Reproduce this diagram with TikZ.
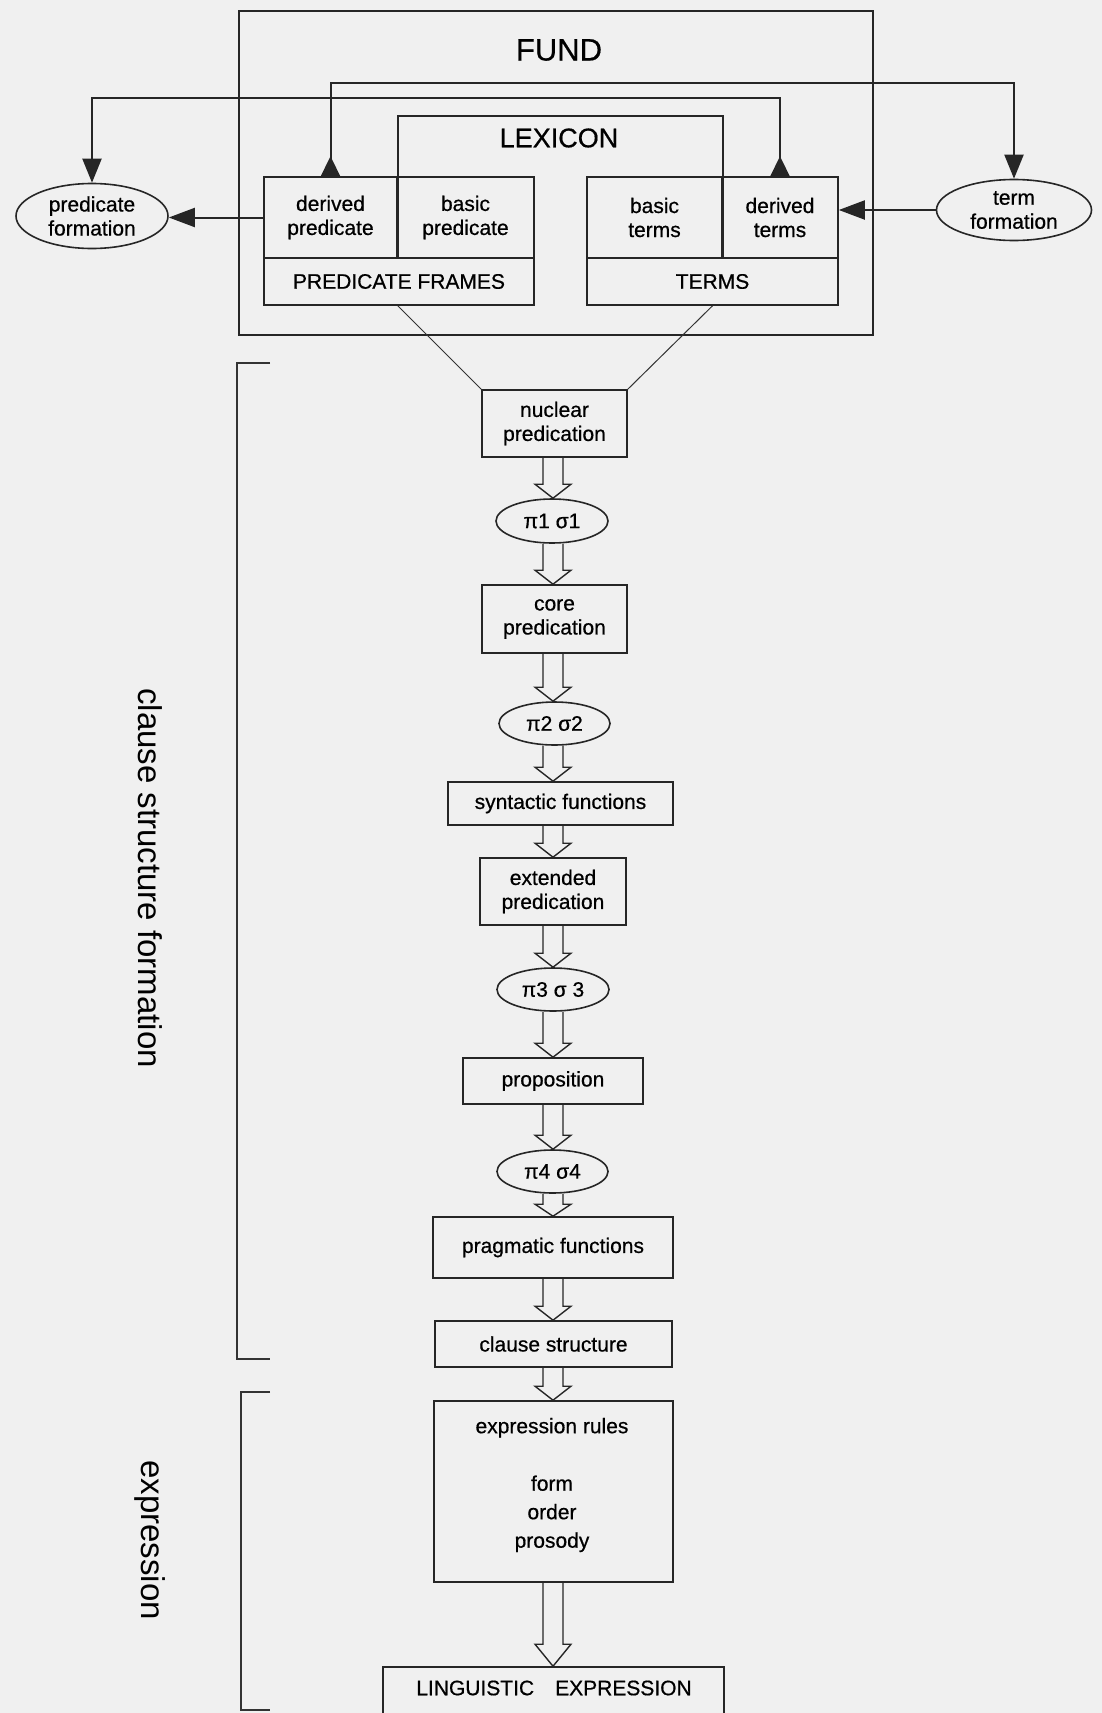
\documentclass[tikz,border=0pt]{standalone}
\usepackage{fontspec}
\setmainfont{Liberation Sans}
\newfontfamily\heavyfont{Liberation Sans}[FakeBold=0.6]
\usetikzlibrary{arrows.meta,shapes.geometric,calc}
\tikzset{
  ink/.style={draw=black!85, line width=1.6pt},
  boxtext/.style={font=\heavyfont\fontsize{21}{24}\selectfont, align=center},
  cell/.style={ink, rectangle, inner sep=0pt, boxtext},
  oval/.style={ink, ellipse, inner sep=0pt, boxtext},
  plain/.style={inner sep=0pt, boxtext},
  hollow/.style={draw=black!85, line width=1.4pt, line join=miter},
  conn/.style={draw=black!85, line width=2pt},
  thinline/.style={draw=black!80, line width=1pt},
  brk/.style={draw=black!80, line width=1.5pt},
}
\newcommand\holarrow[3][14pt]{%
  \draw[hollow] let \p1=(#2.south), \p2=(#3.north), \p3=(axis) in
    (\x3-10pt,\y1) -- (\x3-10pt,\y2+#1) -- (\x3-18pt,\y2+#1) -- (\x3,\y2)
    -- (\x3+18pt,\y2+#1) -- (\x3+10pt,\y2+#1) -- (\x3+10pt,\y1);}
\begin{document}
\begin{tikzpicture}[x=1pt,y=-1pt]
\clip (0,0) rectangle (1102,1713);
\fill[black!6] (0,0) rectangle (1102,1713);
\coordinate (axis) at (553,0);
\coordinate (topA) at (0,83);
\coordinate (topB) at (0,98);
\coordinate (lexnw) at (397,116);

% FUND
\node[ink, rectangle, minimum width=634pt, minimum height=324pt, inner sep=0pt] (fund) at (556,173) {};
\node[inner sep=0pt, font=\heavyfont\fontsize{31}{34}\selectfont] (fundlabel) at (559,50) {FUND};

% cells
\node[cell, minimum width=133pt, minimum height=81pt] (dp) at (330.5,217.5) {derived\\predicate};
\node[cell, minimum width=137pt, minimum height=81pt] (bp) at (465.5,217.5) {basic\\predicate};
\node[cell, minimum width=270pt, minimum height=47pt] (pfr) at (399,281.5) {PREDICATE FRAMES};
\node[cell, minimum width=135pt, minimum height=81pt] (bt) at (654.5,217.5) {basic\\terms};
\node[cell, minimum width=116pt, minimum height=81pt] (dtm) at (780,217.5) {derived\\terms};
\node[cell, minimum width=251pt, minimum height=47pt] (trm) at (712.5,281.5) {TERMS};

% LEXICON
\draw[ink] (dp.south east) -- (dp.south east |- lexnw) -| (bt.south east);
\node[inner sep=0pt, font=\heavyfont\fontsize{27}{30}\selectfont] (lexlabel) at (559,138) {LEXICON};

% formation ellipses
\node[oval, minimum width=152pt, minimum height=65pt] (pf) at (92,216) {predicate\\formation};
\node[oval, minimum width=155pt, minimum height=61pt] (tf) at (1014,210) {term\\formation};

% connectors of the fund
\draw[conn, {Triangle[reversed,length=20pt,width=19pt]}-{Triangle[length=24pt,width=19pt]}]
  (dp.north) |- (tf.north |- topA) -- (tf.north);
\draw[conn, {Triangle[reversed,length=20pt,width=19pt]}-{Triangle[length=24pt,width=19pt]}]
  (dtm.north) |- (pf.north |- topB) -- (pf.north);
\draw[conn, -{Triangle[length=26pt,width=19pt]}] (dp.west) -- (dp.west -| pf.east);
\draw[conn, -{Triangle[length=26pt,width=19pt]}] (tf.west) -- (tf.west -| dtm.east);

% chain
\node[cell, minimum width=145pt, minimum height=67pt] (nuc) at (554.5,423.5) {nuclear\\predication};
\node[oval, minimum width=112pt, minimum height=44pt] (e1) at (552,521) {π1 σ1};
\node[cell, minimum width=145pt, minimum height=68pt] (core) at (554.5,619) {core\\predication};
\node[oval, minimum width=111pt, minimum height=43pt] (e2) at (554.5,723.5) {π2 σ2};
\node[cell, minimum width=225pt, minimum height=43pt] (syn) at (560.5,803.5) {syntactic functions};
\node[cell, minimum width=146pt, minimum height=67pt] (ext) at (553,891.5) {extended\\predication};
\node[oval, minimum width=112pt, minimum height=43pt] (e3) at (553,989.5) {π3 σ 3};
\node[cell, minimum width=180pt, minimum height=46pt] (prop) at (553,1081) {proposition};
\node[oval, minimum width=111pt, minimum height=43pt] (e4) at (552.5,1171.5) {π4 σ4};
\node[cell, minimum width=240pt, minimum height=61pt] (prag) at (553,1247.5) {pragmatic functions};
\node[cell, minimum width=237pt, minimum height=46pt] (cls) at (553.5,1344) {clause structure};
\node[cell, minimum width=239pt, minimum height=181pt] (rules) at (553.5,1491.5) {};
\node[plain, font=\heavyfont\fontsize{21}{28.5}\selectfont] (rulestext) at (552,1485) {expression rules\\[29pt]form\\order\\prosody};
\node[cell, minimum width=341pt, minimum height=72pt] (ling) at (553.5,1703) {};
\node[plain] (lingtext) at (554,1688) {LINGUISTIC\hspace{21pt}EXPRESSION};

% frames to nuclear predication
\draw[thinline] (pfr.south -| dp.east) -- (nuc.north west);
\draw[thinline] (trm.south) -- (nuc.north east);

% hollow arrows
\holarrow{nuc}{e1}
\holarrow{e1}{core}
\holarrow{core}{e2}
\holarrow{e2}{syn}
\holarrow{syn}{ext}
\holarrow{ext}{e3}
\holarrow{e3}{prop}
\holarrow{prop}{e4}
\holarrow[12pt]{e4}{prag}
\holarrow{prag}{cls}
\holarrow{cls}{rules}
\holarrow[22pt]{rules}{ling}

% brackets
\draw[brk] (270,363) -- (237,363) -- (237,1359) -- (270,1359);
\draw[brk] (270,1392) -- (241,1392) -- (241,1710) -- (270,1710);
\node[inner sep=0pt, rotate=-90, font=\fontsize{33}{36}\selectfont] (clauselabel) at (150,878) {clause structure formation};
\node[inner sep=0pt, rotate=-90, font=\fontsize{33}{36}\selectfont] (exprlabel) at (150,1540) {expression};
\end{tikzpicture}
\end{document}
